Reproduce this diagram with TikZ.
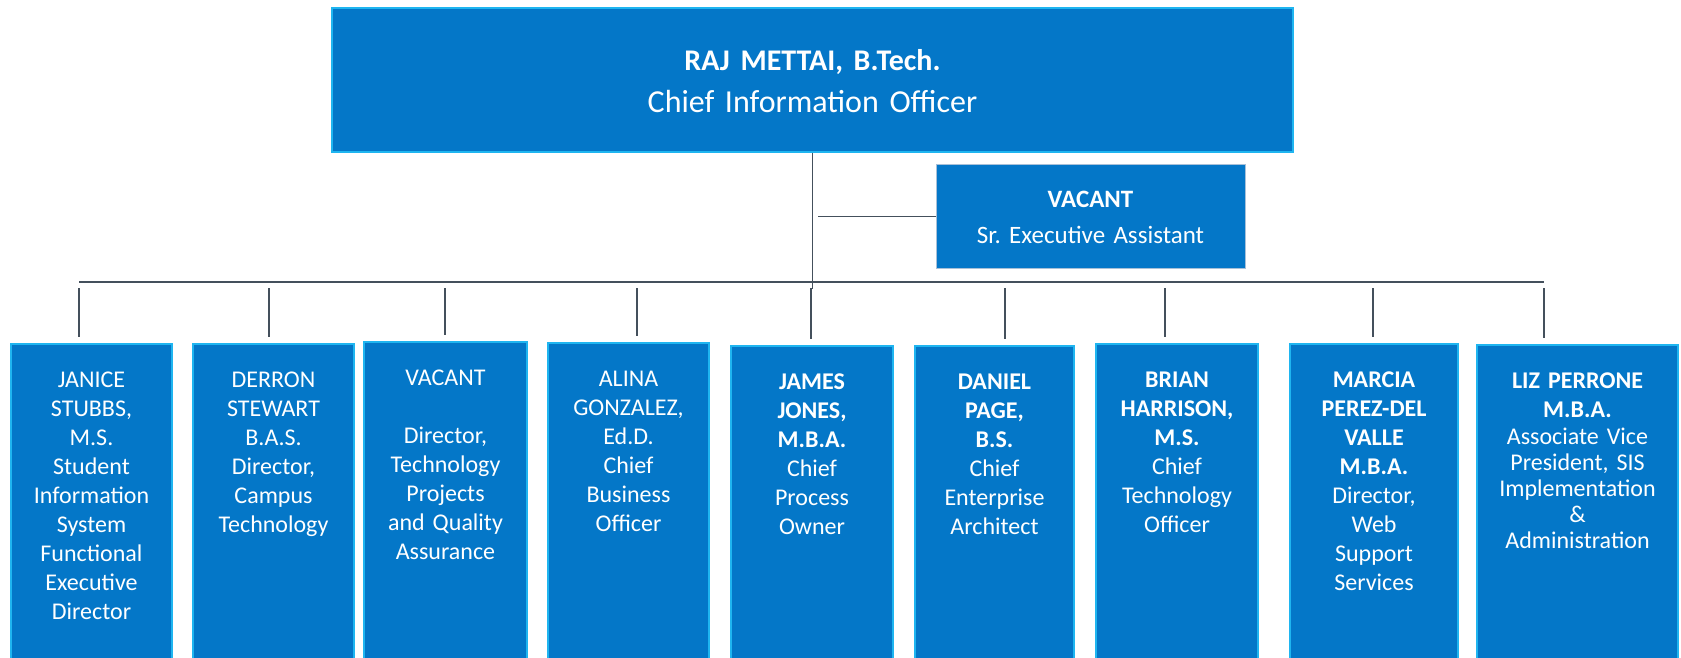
\documentclass[tikz,border=0pt]{standalone}
\usepackage{fontspec}
\setmainfont{Carlito}[WordSpace=0.8]
\frenchspacing
\usetikzlibrary{calc, positioning}

\definecolor{cardfill}{HTML}{0477C8}
\definecolor{cardline}{HTML}{1FB5F0}
\definecolor{assistline}{HTML}{A8C0D8}
\definecolor{linkgray}{HTML}{44505C}

\begin{document}
\begin{tikzpicture}[x=0.5pt, y=-0.5pt,
  unit/.style={draw=cardline, fill=cardfill, line width=0.8pt, text=white, inner sep=0pt, anchor=north, align=center, font=\fontsize{12}{14.5}\selectfont, text height=22pt, text depth=170pt},
  link/.style={draw=linkgray, line width=0.7pt}]
  \useasboundingbox (0,0) rectangle (1681,658);

  % chief and assistant
  \node[unit, text width=480.5pt, text height=31.25pt, text depth=40.5pt, font=\fontsize{16}{21}\selectfont] (cio) at (812.5,7.5) {{\fontsize{15}{21}\selectfont\bfseries RAJ METTAI, B.Tech.}\\Chief Information Officer};
  \node[unit, draw=assistline, line width=0.5pt, text width=154.5pt, text height=21.5pt, text depth=30.5pt, font=\fontsize{12.5}{18}\selectfont] (assist) at (1090.5,164) {\textbf{VACANT}\\Sr. Executive Assistant};

  % directors
  \node[unit, text width=80.5pt] (janice) at (91.5,343) {JANICE\\STUBBS,\\M.S.\\Student\\Information\\System\\Functional\\Executive\\Director};
  \node[unit, text width=80.5pt] (derron) at (273.5,343) {DERRON\\STEWART\\B.A.S.\\Director,\\Campus\\Technology};
  \node[unit, text width=81.5pt] (vacdir) at (445.5,341) {VACANT\\[14.5pt]Director,\\Technology\\Projects\\and Quality\\Assurance};
  \node[unit, text width=80.5pt] (alina) at (628.5,342) {ALINA\\GONZALEZ,\\Ed.D.\\Chief\\Business\\Officer};
  \node[unit, text width=81pt] (james) at (812,345) {{\bfseries JAMES\\JONES,\\M.B.A.}\\Chief\\Process\\Owner};
  \node[unit, text width=79.5pt] (daniel) at (994.5,345) {{\bfseries DANIEL\\PAGE,\\B.S.}\\Chief\\Enterprise\\Architect};
  \node[unit, text width=81pt] (brian) at (1177,343) {{\bfseries BRIAN\\HARRISON,\\M.S.}\\Chief\\Technology\\Officer};
  \node[unit, text width=84pt] (marcia) at (1374,343) {{\bfseries MARCIA\\PEREZ-DEL\\VALLE\\M.B.A.}\\Director,\\Web\\Support\\Services};
  \node[unit, text width=100.5pt] (liz) at (1577.5,344) {{\bfseries LIZ PERRONE\\M.B.A.}\\[-1pt]Associate Vice\\[-1.5pt]President, SIS\\[-1.5pt]Implementation\\[-1.5pt]\&\\[-1.5pt]Administration};

  % connectors
  \coordinate (busL) at (79,282);
  \coordinate (busR) at (1544,282);
  \draw[link] (cio.south) -- ++(0,136);
  \draw[link, shorten >=2.5pt] (assist.west) -- (cio.south |- assist.west);
  \draw[link] (busL) -- (busR);
  \foreach \x/\who in {79/janice, 269/derron, 445/vacdir, 637/alina, 811/james, 1005/daniel, 1165/brian, 1373/marcia, 1544/liz}{
    \coordinate (tick\who) at (\x,282);
    \draw[link, line width=0.55pt, shorten <=3pt, shorten >=3pt] (tick\who) -- (tick\who |- \who.north);
  }
\end{tikzpicture}
\end{document}
